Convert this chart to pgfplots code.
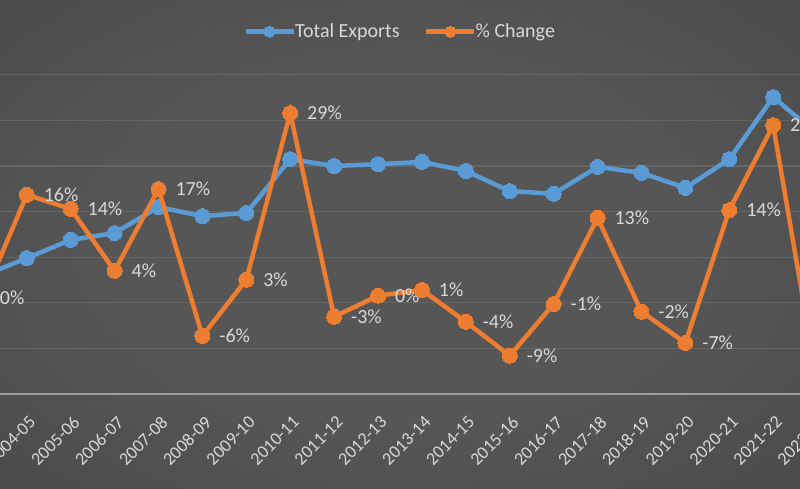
\documentclass[border=0pt]{standalone}
\usepackage{pgfplots}
\pgfplotsset{compat=1.18}
\usepackage{pgfplotstable}
\usepackage{fontspec}
\setmainfont{Carlito}
\definecolor{bg1}{RGB}{86,86,86}
\definecolor{bg2}{RGB}{52,52,52}
\definecolor{gridc}{RGB}{102,102,102}
\definecolor{axc}{RGB}{155,155,155}
\definecolor{txt}{RGB}{217,217,217}
\definecolor{blueS}{RGB}{91,155,213}
\definecolor{orangeS}{RGB}{237,125,49}
\pgfdeclareradialshading{bgshade}{\pgfpoint{0bp}{0bp}}{color(0bp)=(bg1); color(18bp)=(bg1); color(72bp)=(bg2)}

\pgfplotstableread{
i v
0 2.59
1 2.98
2 3.38
3 3.53
4 4.10
5 3.90
6 3.97
7 5.15
8 5.00
9 5.04
10 5.09
11 4.89
12 4.45
13 4.39
14 4.98
15 4.85
16 4.52
17 5.15
18 6.51
19 5.70
}\exports

\pgfplotstableread{
i p lab
0 0 0
1 16.2 16
2 14.0 14
3 4.3 4
4 17.1 17
5 -5.9 -6
6 2.9 3
7 29.0 29
8 -2.9 -3
9 0.4 0
10 1.3 1
11 -3.7 -4
12 -9.0 -9
13 -0.9 -1
14 12.6 13
15 -2.1 -2
16 -7.0 -7
17 13.8 14
18 27.1 27
19 -13 -13
}\change

\begin{document}
\begin{tikzpicture}[x=1pt,y=1pt]
\useasboundingbox (0,0) rectangle (800,488);
\shade[shading=bgshade] (0,0) rectangle (800,488);
\clip (0,0) rectangle (800,488);
\pgfplotsset{
  common/.style={
    at={(-61pt,94pt)}, anchor=south west, scale only axis,
    width=922pt, height=319.2pt,
    xmin=-1, xmax=20,
    major tick length=0pt,
    font=\fontsize{18}{20}\selectfont,
  }
}
\begin{axis}[common,
  ymin=0, ymax=7,
  axis x line*=bottom, axis y line*=left,
  x axis line style={draw=axc, line width=1.6pt, -},
  y axis line style={draw=none},
  ytick={0,1,...,7}, yticklabels={},
  ymajorgrids, major grid style={draw=gridc, line width=1.3pt},
  xtick={0,1,...,19},
  xticklabels={2003-04,2004-05,2005-06,2006-07,2007-08,2008-09,2009-10,2010-11,2011-12,2012-13,2013-14,2014-15,2015-16,2016-17,2017-18,2018-19,2019-20,2020-21,2021-22,2022-23},
  x tick label style={yshift=-21pt, xshift=1.5pt, rotate=45, anchor=north east, inner sep=0pt, text=txt},
]
\addplot[blueS, line width=4.5pt, mark=*, mark size=7.5pt, mark options={fill=blueS, draw=blueS, line width=0pt}] table[x=i, y=v] {\exports};
\end{axis}
\begin{axis}[common,
  ymin=-15, ymax=35,
  hide x axis, hide y axis,
  legend columns=2,
  legend style={at={(axis description cs:0.5,1.135)}, anchor=center, draw=none, fill=none, text=txt, inner sep=0pt,
    font=\fontsize{20}{22}\selectfont,
    /tikz/every even column/.append style={column sep=22pt}},
  legend image code/.code={\draw[mark repeat=2, mark phase=2, #1, mark size=5.5pt, line width=5pt] plot coordinates {(0pt,0pt) (24pt,0pt) (48pt,0pt)};},
  legend cell align=left,
]
\addlegendimage{blueS, mark=*, mark options={fill=blueS, draw=blueS, line width=0pt}}
\addlegendentry{\hspace{-3pt}Total Exports}
\addplot[orangeS, line width=4.5pt, mark=*, mark size=7.5pt, mark options={fill=orangeS, draw=orangeS, line width=0pt},
  point meta=explicit symbolic,
  nodes near coords={\pgfplotspointmeta\%},
  every node near coord/.append style={anchor=west, inner sep=0pt, xshift=17pt, text=txt, font=\fontsize{20}{22}\selectfont}]
  table[x=i, y=p, meta=lab] {\change};
\addlegendentry{\hspace{-3pt}\% Change}
\end{axis}
\end{tikzpicture}
\end{document}
